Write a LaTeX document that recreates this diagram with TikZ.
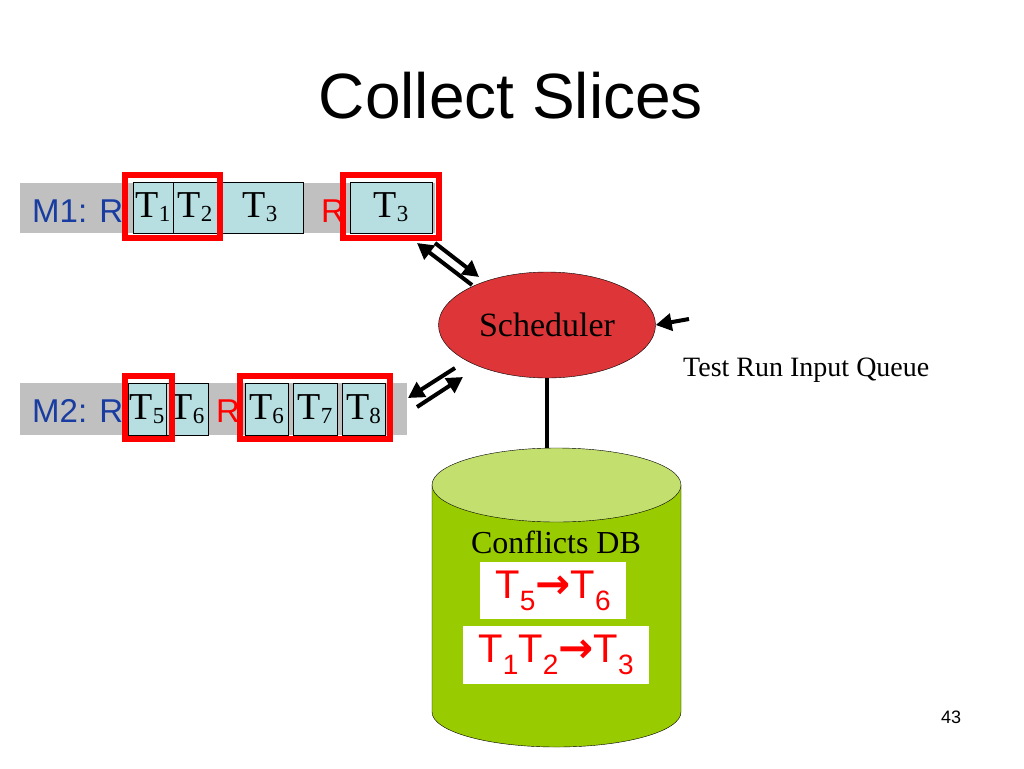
\documentclass[tikz,border=0pt]{standalone}
\usepackage{fontspec}
\setmainfont{Liberation Serif}
\newfontfamily\arial{Liberation Sans}
\newfontfamily\dejavu{DejaVu Sans}
\usetikzlibrary{shapes.geometric,arrows.meta}
\definecolor{slicegray}{RGB}{192,192,192}
\definecolor{cellblue}{RGB}{183,222,224}
\definecolor{mblue}{RGB}{25,60,160}
\definecolor{schedred}{RGB}{222,53,56}
\definecolor{dbbody}{RGB}{153,204,0}
\definecolor{dbtopc}{RGB}{195,223,110}
\def\tsub#1{T\raisebox{-4pt}{\fontsize{23}{23}\selectfont #1}}
\def\rsub#1{T\raisebox{-12pt}{\fontsize{28}{28}\selectfont #1}}
\def\rarr{{\dejavu\bfseries\fontsize{42}{42}\selectfont →}}
\def\redbox{\draw[red,line width=6pt]}
\tikzset{
  cell/.style={draw,fill=cellblue,inner sep=0pt,minimum height=51pt,font=\fontsize{38}{38}\selectfont},
  conn/.style={line width=4pt,-{Triangle[length=16pt,width=17pt]}},
  mlabel/.style={anchor=base west,inner sep=0pt,font=\arial\fontsize{33}{33}\selectfont},
  rule/.style={fill=white,inner sep=0pt,text=red,font=\arial\fontsize{40}{40}\selectfont}
}

\begin{document}
\begin{tikzpicture}[x=1pt,y=1pt]
\useasboundingbox[fill=white] (0,0) rectangle (1024,-768);
\node[anchor=base,font=\arial\fontsize{64}{64}\selectfont] (title) at (511,-118) {Collect Slices};
% machine 1
\fill[slicegray] (20,-183) rectangle (435,-233);
\node[mlabel,text=mblue] (m1) at (32,-222) {M1: R};
\node[mlabel,text=red] (r1) at (321,-222) {R};
\node[cell,minimum width=40pt] (t1) at (153,-207.5) {\tsub1};
\node[cell,minimum width=44pt] (t2) at (195,-207.5) {\tsub2};
\node[cell,minimum width=86pt] (t3) at (260,-207.5) {\tsub3};
\node[cell,minimum width=82pt] (t3b) at (391,-207.5) {\tsub3};
\redbox (125,-175) rectangle (220,-238);
\redbox (343,-175) rectangle (439,-238);
% machine 2
\fill[slicegray] (20,-383) rectangle (407,-435);
\node[mlabel,text=mblue] (m2) at (32,-422) {M2: R};
\node[mlabel,text=red] (r2) at (216,-422) {R};
\node[cell,minimum width=38pt,minimum height=52pt] (t5) at (147,-409) {\tsub5};
\node[cell,minimum width=42pt,minimum height=52pt] (t6) at (187,-409) {\tsub6};
\node[cell,minimum width=43pt,minimum height=52pt] (t6b) at (266.5,-409) {\tsub6};
\node[cell,minimum width=44pt,minimum height=52pt] (t7) at (315,-409) {\tsub7};
\node[cell,minimum width=43pt,minimum height=52pt] (t8) at (363.5,-409) {\tsub8};
\redbox (125,-376) rectangle (172,-439);
\redbox (240,-376) rectangle (390,-439);
% scheduler
\node[ellipse,draw,fill=schedred,minimum width=217pt,minimum height=106pt,inner sep=0pt,
  font=\fontsize{34}{34}\selectfont] (sched) at (547,-325) {Scheduler};
\coordinate (a1) at (472,-285); \coordinate (a2) at (417,-243);
\coordinate (b1) at (435,-243); \coordinate (b2) at (479,-277);
\coordinate (c1) at (455,-368); \coordinate (c2) at (408,-398);
\coordinate (d1) at (417,-407); \coordinate (d2) at (463,-377);
\coordinate (qin) at (689,-319);
\draw[conn] (a1) -- (a2);
\draw[conn] (b1) -- (b2);
\draw[conn] (c1) -- (c2);
\draw[conn] (d1) -- (d2);
\draw[conn] (qin) -- (sched.east);
\node[anchor=base west,inner sep=0pt,font=\fontsize{28}{28}\selectfont] (queue) at (683,-376) {Test Run Input Queue};
% conflicts db
\draw[fill=dbbody] (432,-485) -- (432,-712) arc[start angle=180,end angle=360,x radius=124.5,y radius=35] -- (681,-485) -- cycle;
\node[ellipse,draw,fill=dbtopc,minimum width=249pt,minimum height=74pt,inner sep=0pt] (dbtop) at (556.5,-485) {};
\draw[line width=3.5pt] (sched.south) -- (sched.south |- dbtop.north);
\node[anchor=base,inner sep=0pt,font=\fontsize{32}{32}\selectfont] (dbname) at (556,-553) {Conflicts DB};
\node[rule,minimum width=146pt,minimum height=57pt] (rule1) at (553,-590.5) {\rsub5\rarr\rsub6};
\node[rule,minimum width=186pt,minimum height=58pt] (rule2) at (556,-655) {\rsub1\rsub2\rarr\rsub3};
\node[anchor=base,inner sep=0pt,font=\arial\fontsize{18}{18}\selectfont] (page) at (951,-723) {43};
\end{tikzpicture}
\end{document}
